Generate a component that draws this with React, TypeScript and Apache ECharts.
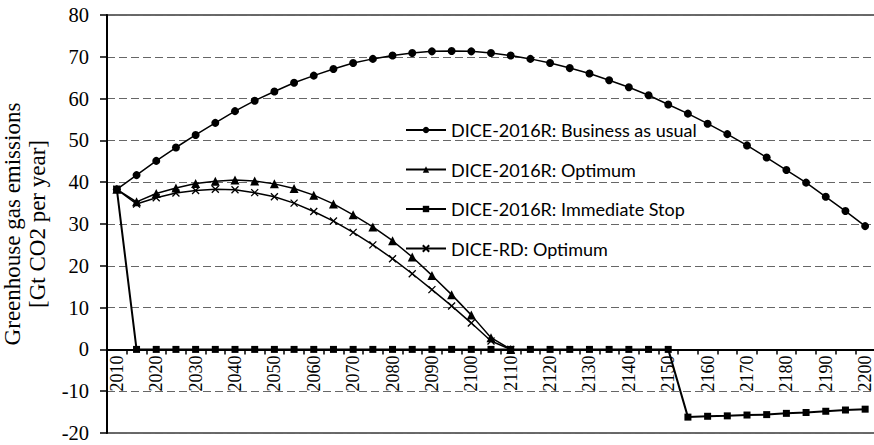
import React, { useEffect, useRef } from "react";
import * as echarts from "echarts";

const years = [
  "2010", "2015", "2020", "2025", "2030", "2035", "2040", "2045", "2050", "2055",
  "2060", "2065", "2070", "2075", "2080", "2085", "2090", "2095", "2100", "2105",
  "2110", "2115", "2120", "2125", "2130", "2135", "2140", "2145", "2150", "2155",
  "2160", "2165", "2170", "2175", "2180", "2185", "2190", "2195", "2200",
];

const businessAsUsual = [
  38.3, 41.7, 45.1, 48.3, 51.3, 54.2, 57.0, 59.5, 61.7, 63.8,
  65.5, 67.1, 68.5, 69.5, 70.3, 70.9, 71.3, 71.4, 71.3, 70.9,
  70.3, 69.5, 68.5, 67.3, 66.0, 64.4, 62.7, 60.8, 58.6, 56.4,
  54.0, 51.5, 48.8, 45.9, 42.9, 39.9, 36.5, 33.1, 29.5,
];

const optimum2016 = [
  38.3, 35.3, 37.3, 38.6, 39.7, 40.2, 40.5, 40.3, 39.6, 38.5,
  36.9, 34.8, 32.2, 29.3, 26.0, 22.1, 17.7, 13.1, 8.2, 2.8, 0,
];

const immediateStop = [
  38.3, 0, 0, 0, 0, 0, 0, 0, 0, 0,
  0, 0, 0, 0, 0, 0, 0, 0, 0, 0,
  0, 0, 0, 0, 0, 0, 0, 0, 0, -16.2,
  -16.0, -15.9, -15.7, -15.6, -15.3, -15.1, -14.8, -14.5, -14.3,
];

const optimumRD = [
  38.3, 34.8, 36.3, 37.4, 38.0, 38.3, 38.2, 37.5, 36.5, 35.0,
  33.0, 30.7, 28.0, 25.0, 21.7, 18.1, 14.3, 10.4, 6.3, 2.0, 0,
];

const seriesNames = [
  "DICE-2016R: Business as usual",
  "DICE-2016R: Optimum",
  "DICE-2016R: Immediate Stop",
  "DICE-RD: Optimum",
];

const Y_MIN = -20;
const Y_MAX = 80;
const Y_STEP = 10;

const SERIF = "'Liberation Serif', 'Times New Roman', serif";

export default function App() {
  const ref = useRef<HTMLDivElement>(null);

  useEffect(() => {
    document.body.style.margin = "0";
    const chart = echarts.init(ref.current!, null, { renderer: "svg" });
    const base = {
      type: "line",
      showAllSymbol: true,
      lineStyle: { color: "#000", width: 1.5 },
      itemStyle: { color: "#000" },
    };
    chart.setOption({
      animation: false,
      grid: {
        left: 107,
        right: -1,
        top: 15,
        bottom: 12,
        containLabel: false,
        outerBoundsMode: "none",
        show: true,
        borderColor: "#3a3a3a",
        borderWidth: 1.5,
        backgroundColor: "transparent",
      },
      legend: {
        orient: "vertical",
        left: 405,
        top: 121,
        padding: 0,
        itemWidth: 40,
        itemHeight: 8,
        itemGap: 21.5,
        data: seriesNames,
        textStyle: { fontFamily: "Lato", fontSize: 18, color: "#000", lineHeight: 18 },
      },
      xAxis: {
        type: "category",
        data: years,
        boundaryGap: true,
        axisLine: { onZero: false, lineStyle: { color: "#000", width: 2 } },
        axisTick: { show: true, interval: 0, length: 5, lineStyle: { color: "#000", width: 1.5 } },
        axisLabel: {
          interval: 1,
          rotate: 90,
          margin: 6,
          fontSize: 18,
          fontFamily: SERIF,
          color: "#000",
        },
        splitLine: { show: false },
      },
      yAxis: {
        type: "value",
        min: Y_MIN,
        max: Y_MAX,
        interval: Y_STEP,
        name: "Greenhouse gas emissions\n[Gt CO2 per year]",
        nameLocation: "middle",
        nameGap: 57,
        nameTextStyle: { fontSize: 23, lineHeight: 25, fontFamily: SERIF, color: "#000" },
        axisLine: { show: true, lineStyle: { color: "#000", width: 2 } },
        axisTick: { show: true, length: 7, lineStyle: { color: "#000", width: 1.5 } },
        axisLabel: { fontSize: 20.5, lineHeight: 18, margin: 18, fontFamily: SERIF, color: "#000" },
        splitLine: { show: true, lineStyle: { type: [8, 4], color: "#666", width: 1.2 } },
      },
      series: [
        { ...base, name: seriesNames[0], data: businessAsUsual, symbol: "circle", symbolSize: 8 },
        { ...base, name: seriesNames[1], data: optimum2016, symbol: "triangle", symbolSize: 9 },
        {
          ...base,
          name: seriesNames[2],
          data: immediateStop,
          symbol: "rect",
          symbolSize: 7,
          lineStyle: { color: "#000", width: 2 },
        },
        {
          ...base,
          name: seriesNames[3],
          data: optimumRD,
          symbol: "path://M0,0L10,10M10,0L0,10",
          symbolSize: 7,
          itemStyle: { color: "#000", borderColor: "#000", borderWidth: 1.3 },
        },
      ],
    });

    // Place the x axis on the zero line, using the y scale's own pixel mapping.
    const zeroY = chart.convertToPixel({ yAxisIndex: 0 }, 0) as number;
    const bottomY = chart.convertToPixel({ yAxisIndex: 0 }, Y_MIN) as number;
    chart.setOption({ xAxis: { offset: -(bottomY - zeroY) } });

    return () => chart.dispose();
  }, []);

  return <div ref={ref} style={{ width: 874, height: 445 }} />;
}
